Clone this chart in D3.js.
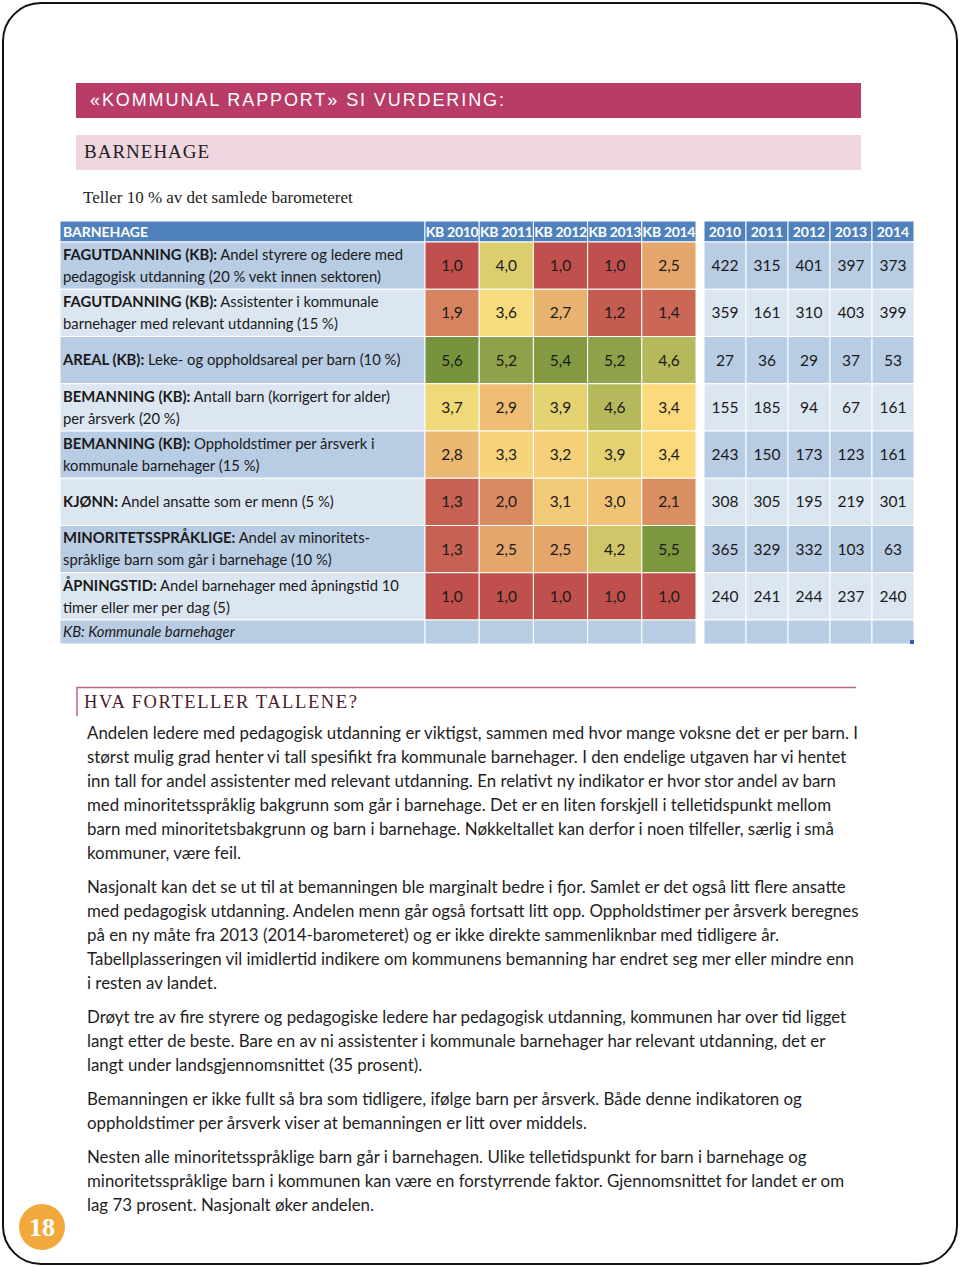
<!DOCTYPE html>
<html>
<head>
<meta charset="utf-8">
<script src="https://cdn.jsdelivr.net/npm/d3@7"></script>
<style>
  body { margin: 0; background: #fff; }
</style>
</head>
<body>
<div id="page"></div>
<script>
//Colores fijos
const COLOR_TITLE = '#B93C68',
  COLOR_SUBTITLE = '#F0D6E0',
  COLOR_HEAD = '#4F81BD',
  COLOR_ROW_DARK = '#B8CCE4',
  COLOR_ROW_LIGHT = '#DCE6F1',
  COLOR_LOW = '#C0504D',
  COLOR_MID = '#FCE07F',
  COLOR_HIGH = '#77933C',
  COLOR_BADGE = '#F2A93B',
  COLOR_RULE = '#B8667E';

const SANS = "Lato, 'Open Sans', sans-serif",
  SERIF = "'Liberation Serif', 'DejaVu Serif', serif",
  ARIAL = "'Liberation Sans', Arial, sans-serif";

//Datos
const kbYears = ['KB 2010', 'KB 2011', 'KB 2012', 'KB 2013', 'KB 2014'];
const rankYears = ['2010', '2011', '2012', '2013', '2014'];

const rowHeads = ['FAGUTDANNING (KB):', 'FAGUTDANNING (KB):', 'AREAL (KB):', 'BEMANNING (KB):',
  'BEMANNING (KB):', 'KJØNN:', 'MINORITETSSPRÅKLIGE:', 'ÅPNINGSTID:'];
const rowDescs = [
  ['Andel styrere og ledere med', 'pedagogisk utdanning (20 % vekt innen sektoren)'],
  ['Assistenter i kommunale', 'barnehager med relevant utdanning (15 %)'],
  ['Leke- og oppholdsareal per barn (10 %)'],
  ['Antall barn (korrigert for alder)', 'per årsverk (20 %)'],
  ['Oppholdstimer per årsverk i', 'kommunale barnehager (15 %)'],
  ['Andel ansatte som er menn (5 %)'],
  ['Andel av minoritets-', 'språklige barn som går i barnehage (10 %)'],
  ['Andel barnehager med åpningstid 10', 'timer eller mer per dag (5)']
];

// poeng per år (KB)
const kb2010 = [1.0, 1.9, 5.6, 3.7, 2.8, 1.3, 1.3, 1.0];
const kb2011 = [4.0, 3.6, 5.2, 2.9, 3.3, 2.0, 2.5, 1.0];
const kb2012 = [1.0, 2.7, 5.4, 3.9, 3.2, 3.1, 2.5, 1.0];
const kb2013 = [1.0, 1.2, 5.2, 4.6, 3.9, 3.0, 4.2, 1.0];
const kb2014 = [2.5, 1.4, 4.6, 3.4, 3.4, 2.1, 5.5, 1.0];

// plassering per år
const rank2010 = [422, 359, 27, 155, 243, 308, 365, 240];
const rank2011 = [315, 161, 36, 185, 150, 305, 329, 241];
const rank2012 = [401, 310, 29, 94, 173, 195, 332, 244];
const rank2013 = [397, 403, 37, 67, 123, 219, 103, 237];
const rank2014 = [373, 399, 53, 161, 161, 301, 63, 240];

const footNote = 'KB: Kommunale barnehager';

const paragraphs = [
  ['Andelen ledere med pedagogisk utdanning er viktigst, sammen med hvor mange voksne det er per barn. I',
   'størst mulig grad henter vi tall spesifikt fra kommunale barnehager. I den endelige utgaven har vi hentet',
   'inn tall for andel assistenter med relevant utdanning. En relativt ny indikator er hvor stor andel av barn',
   'med minoritetsspråklig bakgrunn som går i barnehage. Det er en liten forskjell i telletidspunkt mellom',
   'barn med minoritetsbakgrunn og barn i barnehage. Nøkkeltallet kan derfor i noen tilfeller, særlig i små',
   'kommuner, være feil.'],
  ['Nasjonalt kan det se ut til at bemanningen ble marginalt bedre i fjor. Samlet er det også litt flere ansatte',
   'med pedagogisk utdanning. Andelen menn går også fortsatt litt opp. Oppholdstimer per årsverk beregnes',
   'på en ny måte fra 2013 (2014-barometeret) og er ikke direkte sammenliknbar med tidligere år.',
   'Tabellplasseringen vil imidlertid indikere om kommunens bemanning har endret seg mer eller mindre enn',
   'i resten av landet.'],
  ['Drøyt tre av fire styrere og pedagogiske ledere har pedagogisk utdanning, kommunen har over tid ligget',
   'langt etter de beste. Bare en av ni assistenter i kommunale barnehager har relevant utdanning, det er',
   'langt under landsgjennomsnittet (35 prosent).'],
  ['Bemanningen er ikke fullt så bra som tidligere, ifølge barn per årsverk. Både denne indikatoren og',
   'oppholdstimer per årsverk viser at bemanningen er litt over middels.'],
  ['Nesten alle minoritetsspråklige barn går i barnehagen. Ulike telletidspunkt for barn i barnehage og',
   'minoritetsspråklige barn i kommunen kan være en forstyrrende faktor. Gjennomsnittet for landet er om',
   'lag 73 prosent. Nasjonalt øker andelen.']
];

//Tabla construida a partir de los arrays
const kbSeries = [kb2010, kb2011, kb2012, kb2013, kb2014];
const rankSeries = [rank2010, rank2011, rank2012, rank2013, rank2014];
const nRows = rowHeads.length;

const cells = [];
const rankCells = [];
for (let r = 0; r < nRows; r++) {
  kbYears.forEach(function(y, i) { cells.push({ row: r, year: y, value: kbSeries[i][r] }); });
  rankYears.forEach(function(y, i) { rankCells.push({ row: r, year: y, value: rankSeries[i][r] }); });
}

const locale = d3.formatLocale({ decimal: ',', thousands: ' ', grouping: [3], currency: ['', ''] });
const fmt1 = locale.format('.1f');

const W = 960, H = 1267;
const svg = d3.select('#page').append('svg')
  .attr('width', W).attr('height', H)
  .style('display', 'block');

// Marco de la página
svg.append('rect')
  .attr('x', 3).attr('y', 3)
  .attr('width', W - 6).attr('height', H - 6)
  .attr('rx', 38).attr('ry', 38)
  .attr('fill', 'none')
  .attr('stroke', '#111')
  .attr('stroke-width', 2);

// Título
svg.append('rect').attr('x', 76).attr('y', 83).attr('width', 785).attr('height', 35).attr('fill', COLOR_TITLE);
svg.append('text')
  .attr('x', 90).attr('y', 106)
  .attr('font-family', ARIAL).attr('font-size', 18).attr('fill', '#fff')
  .attr('letter-spacing', 1.9)
  .text('«KOMMUNAL RAPPORT» SI VURDERING:');

svg.append('rect').attr('x', 76).attr('y', 135).attr('width', 785).attr('height', 35).attr('fill', COLOR_SUBTITLE);
svg.append('text')
  .attr('x', 84).attr('y', 158)
  .attr('font-family', SERIF).attr('font-size', 19).attr('fill', '#222')
  .attr('letter-spacing', 1.0)
  .text('BARNEHAGE');

svg.append('text')
  .attr('x', 83).attr('y', 203)
  .attr('font-family', SERIF).attr('font-size', 17).attr('fill', '#222')
  .text('Teller 10 % av det samlede barometeret');

//Escalas
const headTop = 221, headBottom = 242, tableBottom = 620, footBottom = 644;
const labelX0 = 60, labelX1 = 425;

const y = d3.scaleBand().domain(d3.range(nRows)).range([headBottom, tableBottom]);
const xKb = d3.scaleBand().domain(kbYears).range([labelX1, 696]);
const xRank = d3.scaleBand().domain(rankYears).range([704, 914]);

const allScores = cells.map(function(d) { return d.value; });
const color = d3.scaleLinear()
  .domain([d3.min(allScores), 3.5, d3.max(allScores)])
  .range([COLOR_LOW, COLOR_MID, COLOR_HIGH])
  .clamp(true);

const rowFill = function(r) { return r % 2 === 0 ? COLOR_ROW_DARK : COLOR_ROW_LIGHT; };

const table = svg.append('g').attr('class', 'table');

//Cabecera
table.append('rect')
  .attr('x', labelX0).attr('y', headTop)
  .attr('width', labelX1 - labelX0).attr('height', headBottom - headTop)
  .attr('fill', COLOR_HEAD).attr('stroke', '#fff').attr('stroke-width', 1);
table.append('text')
  .attr('x', labelX0 + 3).attr('y', (headTop + headBottom) / 2).attr('dy', '0.36em')
  .attr('font-family', SANS).attr('font-weight', 700).attr('font-size', 14).attr('fill', '#fff')
  .text('BARNEHAGE');

[[xKb, kbYears], [xRank, rankYears]].forEach(function(pair) {
  const sc = pair[0];
  const g = table.append('g');
  g.selectAll('rect').data(pair[1]).enter().append('rect')
    .attr('x', function(d) { return sc(d); })
    .attr('y', headTop)
    .attr('width', sc.bandwidth())
    .attr('height', headBottom - headTop)
    .attr('fill', COLOR_HEAD).attr('stroke', '#fff').attr('stroke-width', 1);
  g.selectAll('text').data(pair[1]).enter().append('text')
    .attr('x', function(d) { return sc(d) + sc.bandwidth() / 2; })
    .attr('y', (headTop + headBottom) / 2).attr('dy', '0.36em')
    .attr('text-anchor', 'middle')
    .attr('font-family', SANS).attr('font-weight', 700).attr('font-size', 14).attr('fill', '#fff')
    .attr('letter-spacing', pair[0] === xKb ? -0.3 : 0)
    .text(function(d) { return d; });
});

//Etiquetas de filas
const labelG = table.append('g');
labelG.selectAll('rect').data(d3.range(nRows)).enter().append('rect')
  .attr('x', labelX0).attr('y', function(r) { return y(r); })
  .attr('width', labelX1 - labelX0).attr('height', y.bandwidth())
  .attr('fill', rowFill).attr('stroke', '#fff').attr('stroke-width', 1);

const labelSize = 14.8;
const labelTexts = labelG.selectAll('g.lbl').data(d3.range(nRows)).enter().append('g').attr('class', 'lbl');
labelTexts.each(function(r) {
  const g = d3.select(this);
  const lines = rowDescs[r];
  const mid = y(r) + y.bandwidth() / 2;
  const offs = lines.length === 1 ? [0] : [-11, 11];
  lines.forEach(function(line, i) {
    const t = g.append('text')
      .attr('x', labelX0 + 3).attr('y', mid + offs[i]).attr('dy', '0.36em')
      .attr('font-family', SANS).attr('font-size', labelSize).attr('fill', '#1a1a1a');
    if (i === 0) {
      t.append('tspan').attr('font-weight', 700).text(rowHeads[r]);
      t.append('tspan').text(' ' + line);
    } else {
      t.text(line);
    }
  });
});

//Mapa de calor
const heat = table.append('g');
heat.selectAll('rect').data(cells).enter().append('rect')
  .attr('x', function(d) { return xKb(d.year); })
  .attr('y', function(d) { return y(d.row); })
  .attr('width', xKb.bandwidth())
  .attr('height', y.bandwidth())
  .attr('fill', function(d) { return color(d.value); })
  .attr('stroke', '#fff').attr('stroke-width', 1);
heat.selectAll('text').data(cells).enter().append('text')
  .attr('x', function(d) { return xKb(d.year) + xKb.bandwidth() / 2; })
  .attr('y', function(d) { return y(d.row) + y.bandwidth() / 2; })
  .attr('dy', '0.36em').attr('text-anchor', 'middle')
  .attr('font-family', SANS).attr('font-size', 15.5).attr('fill', '#1a1a1a')
  .text(function(d) { return fmt1(d.value); });

//Plasseringer
const ranks = table.append('g');
ranks.selectAll('rect').data(rankCells).enter().append('rect')
  .attr('x', function(d) { return xRank(d.year); })
  .attr('y', function(d) { return y(d.row); })
  .attr('width', xRank.bandwidth())
  .attr('height', y.bandwidth())
  .attr('fill', function(d) { return rowFill(d.row); })
  .attr('stroke', '#fff').attr('stroke-width', 1);
ranks.selectAll('text').data(rankCells).enter().append('text')
  .attr('x', function(d) { return xRank(d.year) + xRank.bandwidth() / 2; })
  .attr('y', function(d) { return y(d.row) + y.bandwidth() / 2; })
  .attr('dy', '0.36em').attr('text-anchor', 'middle')
  .attr('font-family', SANS).attr('font-size', 15.5).attr('fill', '#1a1a1a')
  .text(function(d) { return d.value; });

//Pie de tabla
const foot = table.append('g');
foot.append('rect')
  .attr('x', labelX0).attr('y', tableBottom)
  .attr('width', labelX1 - labelX0).attr('height', footBottom - tableBottom)
  .attr('fill', COLOR_ROW_DARK).attr('stroke', '#fff').attr('stroke-width', 1);
foot.append('text')
  .attr('x', labelX0 + 3).attr('y', (tableBottom + footBottom) / 2).attr('dy', '0.36em')
  .attr('font-family', SANS).attr('font-style', 'italic').attr('font-size', labelSize).attr('fill', '#1a1a1a')
  .text(footNote);
[[xKb, kbYears], [xRank, rankYears]].forEach(function(pair) {
  const sc = pair[0];
  foot.append('g').selectAll('rect').data(pair[1]).enter().append('rect')
    .attr('x', function(d) { return sc(d); })
    .attr('y', tableBottom)
    .attr('width', sc.bandwidth())
    .attr('height', footBottom - tableBottom)
    .attr('fill', COLOR_ROW_DARK).attr('stroke', '#fff').attr('stroke-width', 1);
});
foot.append('rect')
  .attr('x', xRank.range()[1] - 4).attr('y', footBottom - 4)
  .attr('width', 4).attr('height', 4).attr('fill', '#3B5BB5');

// HVA FORTELLER TALLENE?
svg.append('path')
  .attr('d', 'M77,716 V687.5 H856')
  .attr('fill', 'none').attr('stroke', COLOR_RULE).attr('stroke-width', 1.5);
svg.append('text')
  .attr('x', 84).attr('y', 708)
  .attr('font-family', SERIF).attr('font-size', 18.5).attr('fill', '#4a1b2a')
  .attr('letter-spacing', 1.6)
  .text('HVA FORTELLER TALLENE?');

//Texto
const paraTops = [733, 887, 1017, 1099, 1157];
const lineStep = 24;
const body = svg.append('g').attr('class', 'body');

// ajustar tamaño: la primera línea ocupa ~771px en el original
const probe = body.append('text')
  .attr('font-family', SANS).attr('font-size', 16)
  .text(paragraphs[0][0]);
const probeW = probe.node().getComputedTextLength();
probe.remove();
const bodySize = 16 * 771 / probeW;

paragraphs.forEach(function(lines, p) {
  body.append('g').selectAll('text').data(lines).enter().append('text')
    .attr('x', 87)
    .attr('y', function(d, i) { return paraTops[p] + i * lineStep; })
    .attr('dy', '0.36em')
    .attr('font-family', SANS).attr('font-size', bodySize).attr('fill', '#1e1e1e')
    .text(function(d) { return d; });
});

// Número de página
svg.append('circle').attr('cx', 42).attr('cy', 1227).attr('r', 23).attr('fill', COLOR_BADGE);
svg.append('text')
  .attr('x', 42).attr('y', 1227).attr('dy', '0.36em')
  .attr('text-anchor', 'middle')
  .attr('font-family', SERIF).attr('font-weight', 700).attr('font-size', 26).attr('fill', '#fff')
  .text('18');
</script>
</body>
</html>
